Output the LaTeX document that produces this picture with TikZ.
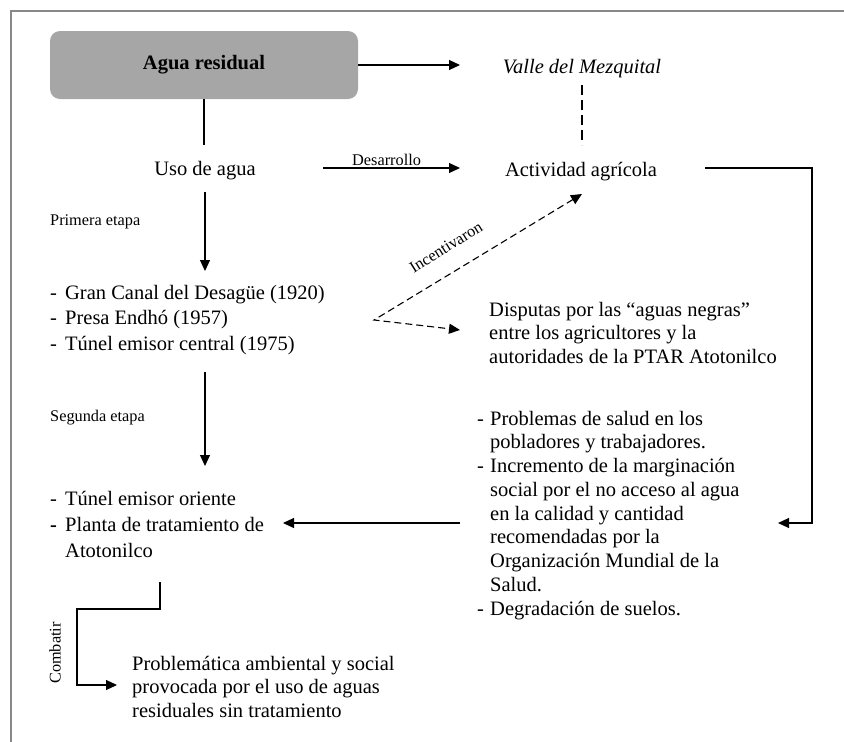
\documentclass[tikz,border=0pt]{standalone}
\usepackage{fontspec}
\setmainfont{Liberation Serif}
\usetikzlibrary{arrows.meta,calc}
\definecolor{boxgray}{HTML}{A6A6A6}
\definecolor{framegray}{HTML}{888888}
\newcommand{\mainsz}{\fontsize{20.5}{25.5}\selectfont}
\newcommand{\smallsz}{\fontsize{16.3}{19}\selectfont}
\newcommand{\itm}[1]{\makebox[#1][l]{-}}
\begin{document}
\begin{tikzpicture}[x=1pt,y=-1pt,
  conn/.style={line width=1.1pt, draw=black},
  arr/.style={conn, -{Triangle[length=11pt,width=10pt]}},
  dsh/.style={dash pattern=on 7pt off 4pt},
  txt/.style={inner sep=0pt, font=\mainsz, anchor=base},
  ltxt/.style={inner sep=0pt, font=\mainsz, anchor=base west},
  small/.style={inner sep=0pt, font=\smallsz, anchor=base west},
  aguabox/.style={fill=boxgray, rounded corners=10pt, minimum width=308pt,
    minimum height=68pt, inner sep=0pt, font=\mainsz\bfseries}
]
\useasboundingbox (0,0) rectangle (844,742);
\draw[framegray, line width=1.6pt] (11,742) -- (11,11) -- (844,11);

% nodes
\node[aguabox] (agua) at (204,65) {Agua residual};
\node[txt, font=\mainsz\itshape] (valle) at (582,73) {Valle del Mezquital};
\node[txt] (uso) at (205,175) {Uso de agua};
\node[txt] (act) at (581,176) {Actividad agrícola};
\node[small] (des) at (352,165) {Desarrollo};
\node[small] (prim) at (50,225) {Primera etapa};
\node[small] (seg) at (50,421) {Segunda etapa};
\node[inner sep=0pt, font=\smallsz, rotate=32] (inc) at (446,247) {Incentivaron};
\node[inner sep=0pt, font=\smallsz, rotate=90] (comb) at (55,653) {Combatir};

\node[ltxt] (etapa1) at (50,299) {\begin{tabular}[t]{@{}l@{}}
\itm{15pt}Gran Canal del Desagüe (1920)\\
\itm{15pt}Presa Endhó (1957)\\
\itm{15pt}Túnel emisor central (1975)\end{tabular}};

\node[ltxt] (disp) at (489,316) {\fontsize{20.5}{23.7}\selectfont\begin{tabular}[t]{@{}l@{}}
Disputas por las “aguas negras”\\
entre los agricultores y la\\
autoridades de la PTAR Atotonilco\end{tabular}};

\node[ltxt] (probs) at (477,425) {\fontsize{20.5}{23.75}\selectfont\begin{tabular}[t]{@{}l@{}}
\itm{13pt}Problemas de salud en los\\
\hspace*{13pt}pobladores y trabajadores.\\
\itm{13pt}Incremento de la marginación\\
\hspace*{13pt}social por el no acceso al agua\\
\hspace*{13pt}en la calidad y cantidad\\
\hspace*{13pt}recomendadas por la\\
\hspace*{13pt}Organización Mundial de la\\
\hspace*{13pt}Salud.\\
\itm{13pt}Degradación de suelos.\end{tabular}};

\node[ltxt] (etapa2) at (50,505) {\fontsize{20.5}{26.2}\selectfont\begin{tabular}[t]{@{}l@{}}
\itm{15pt}Túnel emisor oriente\\
\makebox[15pt][l]{\textbf{-}}Planta de tratamiento de\\
\hspace*{15pt}Atotonilco\end{tabular}};

\node[ltxt] (probl) at (132,670) {\fontsize{20.5}{23.5}\selectfont\begin{tabular}[t]{@{}l@{}}
Problemática ambiental y social\\
provocada por el uso de aguas\\
residuales sin tratamiento\end{tabular}};

% connector end points
\coordinate (vtip) at (460,65);
\coordinate (dtop) at (582,85);
\coordinate (dbot) at (582,145);
\coordinate (ubot) at (204,145);
\coordinate (desL) at (323,168);
\coordinate (desR) at (460,168);
\coordinate (u1) at (205,192);
\coordinate (u2) at (205,271);
\coordinate (s1) at (205,372);
\coordinate (s2) at (205,466);
\coordinate (r1) at (705,168);
\coordinate (r2) at (812,168);
\coordinate (r3) at (812,523);
\coordinate (r4) at (778,523);
\coordinate (h1) at (460,523);
\coordinate (h2) at (283,523);
\coordinate (apex) at (374,320);
\coordinate (incT) at (582,194);
\coordinate (dispT) at (460,330);
\coordinate (c1) at (160,582);
\coordinate (c2) at (160,609);
\coordinate (c3) at (77,609);
\coordinate (c4) at (77,685);
\coordinate (c5) at (117,685);

% connectors
\draw[arr] (agua.east |- vtip) -- (vtip);
\draw[conn, dash pattern=on 10pt off 5pt] (dtop) -- (dbot);
\draw[conn] (agua.south) -- (ubot);
\draw[arr] (desL) -- (desR);
\draw[arr] (u1) -- (u2);
\draw[arr] (s1) -- (s2);
\draw[arr] (r1) -- (r2) -- (r3) -- (r4);
\draw[arr] (h1) -- (h2);
\draw[conn, dsh, {Triangle[length=11pt,width=10pt]}-{Triangle[length=11pt,width=10pt]}] (incT) -- (apex) -- (dispT);
\draw[arr] (c1) -- (c2) -- (c3) -- (c4) -- (c5);
\end{tikzpicture}
\end{document}
